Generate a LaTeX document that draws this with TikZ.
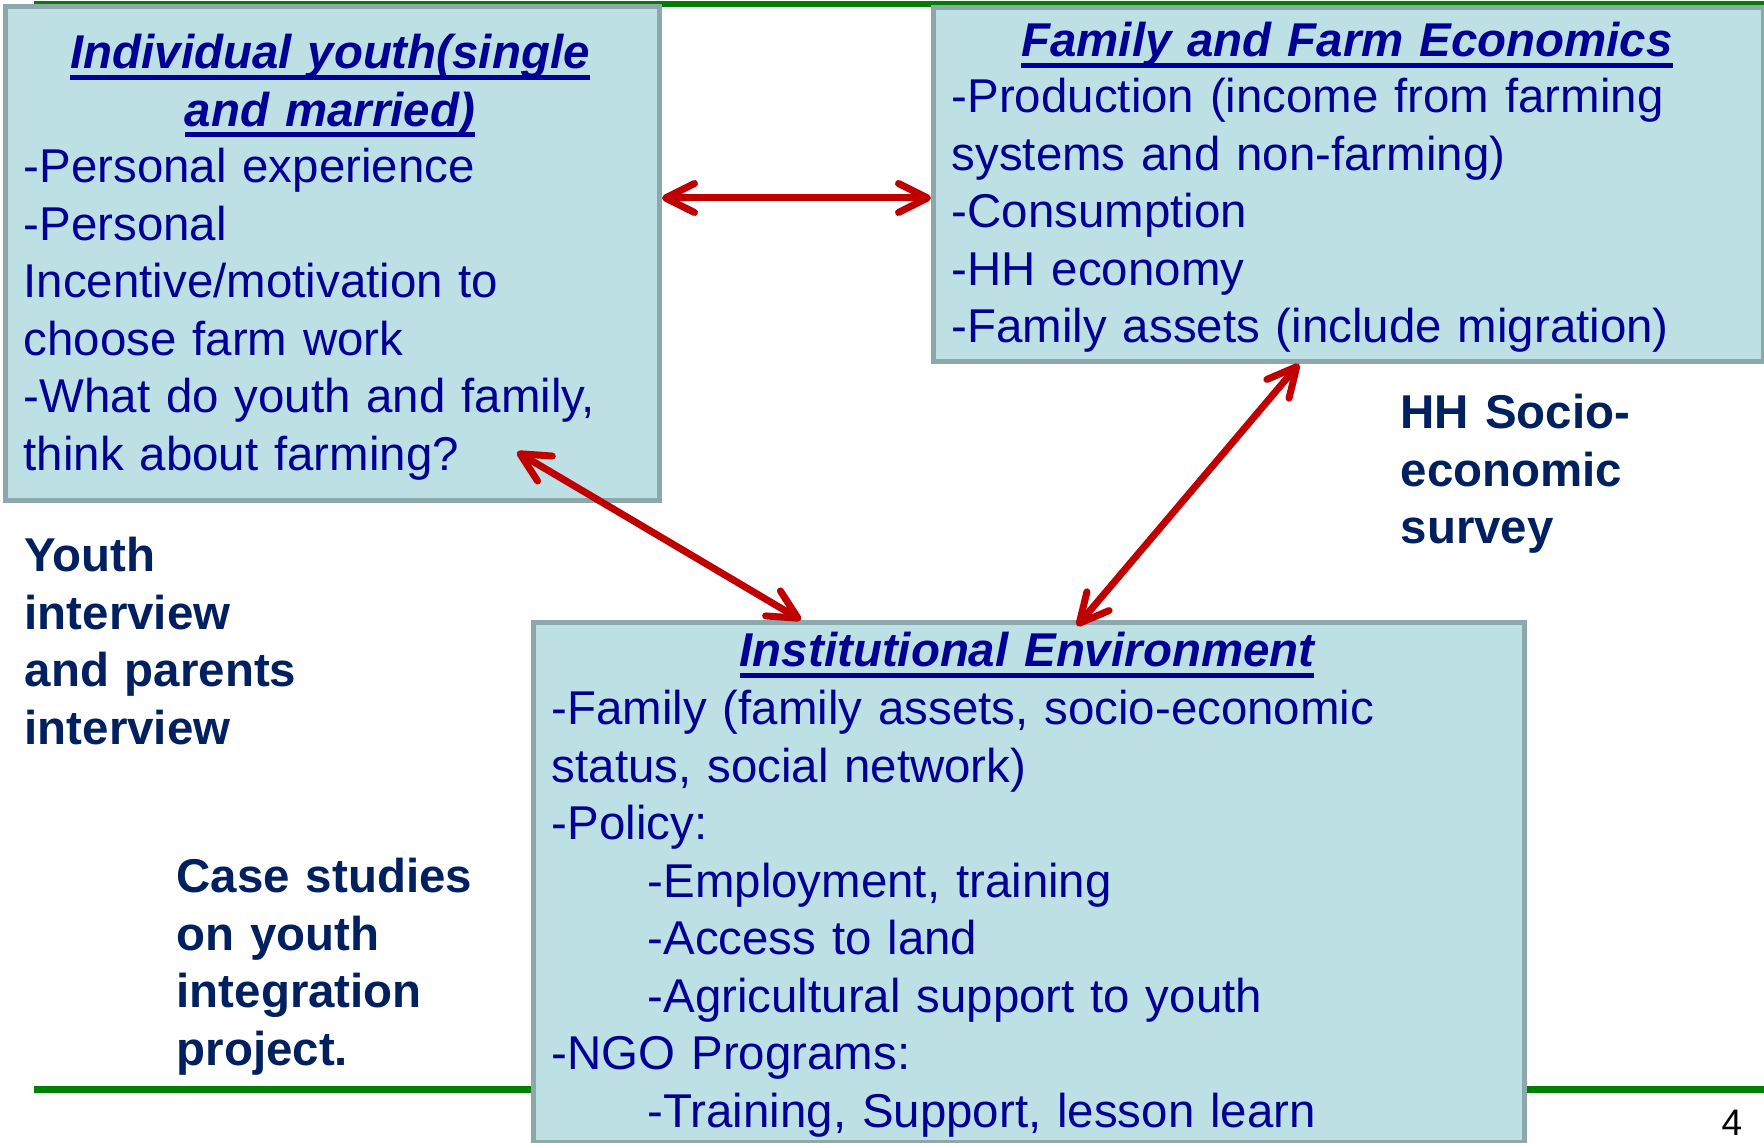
\documentclass[tikz,border=0pt]{standalone}
\usepackage{fontspec}
\setmainfont{Liberation Sans}
\usetikzlibrary{calc}
\usetikzlibrary{arrows.meta}
\definecolor{panelfill}{RGB}{188,224,227}
\definecolor{panelline}{RGB}{141,168,170}
\definecolor{boxblue}{RGB}{0,0,150}
\definecolor{navy}{RGB}{0,32,96}
\definecolor{red}{RGB}{192,0,0}
\definecolor{green}{RGB}{0,128,0}
\newsavebox{\hdbox}
\newcommand{\hd}[1]{\sbox{\hdbox}{\bfseries\itshape #1}\usebox{\hdbox}\llap{\rule[-3pt]{\wd\hdbox}{1.4pt}}}
\newcommand{\ind}{\hspace*{9.6mm}}

\begin{document}
\begin{tikzpicture}[x=0.1mm, y=-0.1mm,
    every node/.style={font=\fontsize{13.5}{16.35}\selectfont, inner sep=0pt},
    panel/.style={draw=panelline, line width=0.5mm, fill=panelfill, anchor=north west},
    body/.style={text=boxblue, align=left, anchor=base west},
    head/.style={text=boxblue, align=center, anchor=base},
    note/.style={text=navy, font=\fontsize{13.5}{16.35}\selectfont\bfseries, text width=60mm, align=left, anchor=base west},
    link/.style={{Straight Barb[length=2.9mm, width=2.9mm, round]}-{Straight Barb[length=2.9mm, width=2.9mm, round]}, red, line width=0.7mm}]
    \useasboundingbox (0,0) rectangle (1764,1143);
    \fill[white] (0,0) rectangle (1764,1143);
    % green rules top and bottom
    \foreach \y/\w in {4/0.6mm, 1090/0.7mm} {
        \draw[green, line width=\w] (34,\y) -- (1764,\y);
    }
    % the three panels
    \node[panel, minimum width=65.4mm, minimum height=49.4mm] (youth) at (3,4) {};
    \node[panel, minimum width=83mm, minimum height=35.4mm] (farm) at (931,5) {};
    \node[panel, minimum width=99.1mm, minimum height=52mm] (inst) at (531,620) {};
    \node[head, text width=62mm] (youthhead) at (330,69) {\hd{Individual youth(single}\\\hd{and married)}};
    \node[body, text width=63mm] (youthbody) at (23,183) {-Personal experience\\-Personal\\Incentive/motivation to\\choose farm work\\-What do youth and family,\\think about farming?};
    \node[head, text width=80mm] (farmhead) at (1347,57) {\hd{Family and Farm Economics}};
    \node[body, text width=80mm] (farmbody) at (951,113) {-Production (income from farming\\systems and non-farming)\\-Consumption\\-HH economy\\-Family assets (include migration)};
    \node[head, text width=90mm] (insthead) at (1027,667) {\hd{Institutional Environment}};
    \node[body, text width=95mm] (instbody) at (551,725) {-Family (family assets, socio-economic\\status, social network)\\-Policy:\\\ind-Employment, training\\\ind-Access to land\\\ind-Agricultural support to youth\\-NGO Programs:\\\ind-Training, Support, lesson learn};
    % data sources
    \node[note] (youthnote) at (24,572) {Youth\\interview\\and parents\\interview};
    \node[note] (hhnote) at (1400,429) {HH Socio-\\economic\\survey};
    \node[note] (casenote) at (176,893) {Case studies\\on youth\\integration\\project.};
    \node[font=\fontsize{10.5}{12}\selectfont, anchor=base] (pageno) at (1732,1136) {4};
    % links between panels
    \coordinate (midrow) at (0,198);
    \coordinate (farmingq) at (517,452);
    \draw[link] (youth.east |- midrow) -- (farm.west |- midrow);
    \draw[link] (farmingq) -- (inst.north -| 801,0);
    \draw[link] (farm.south -| 1299,0) -- ([yshift=-0.6mm]inst.north -| 1077,0);
\end{tikzpicture}
\end{document}
